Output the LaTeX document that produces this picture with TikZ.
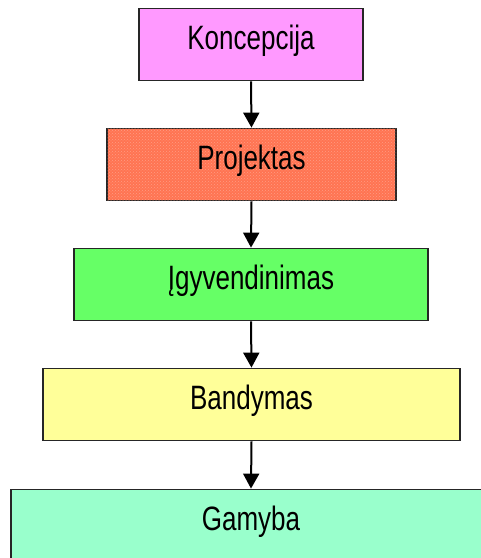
\documentclass[tikz,border=0pt]{standalone}
\usepackage{fontspec}
\usepackage{graphicx}
\setmainfont{Liberation Sans}
\usetikzlibrary{arrows.meta,patterns}

\definecolor{cpink}{HTML}{FF99FF}
\definecolor{corange}{HTML}{FF7452}
\definecolor{corangelt}{HTML}{FF9C84}
\definecolor{cgreen}{HTML}{66FF66}
\definecolor{cyellow}{HTML}{FFFF99}
\definecolor{cmint}{HTML}{99FFCC}

\newcommand{\stagetext}[1]{\scalebox{1}[1.3]{#1}}

\tikzset{
  stage/.style={draw=black!85, line width=1.8pt, inner sep=0pt,
    text height=41pt, text depth=31pt, align=center,
    font=\fontsize{26}{30}\selectfont},
  flow/.style={line width=2pt, -{Triangle[width=16pt,length=15pt]}},
}

\begin{document}
\begin{tikzpicture}[x=1pt,y=-1pt]
  \useasboundingbox (0,0) rectangle (481,558);
  \clip (0,0) rectangle (481,558);

  \node[stage, fill=cpink,   minimum width=224pt] (koncepcija) at (251,44.5) {\stagetext{Koncepcija}};
  \node[stage, fill=corange, minimum width=289pt,
        postaction={pattern=crosshatch dots, pattern color=corangelt}] (projektas) at (251.5,164.5) {\stagetext{Projektas}};
  \node[stage, fill=cgreen,  minimum width=354pt] (igyvendinimas) at (251,284.5) {\stagetext{Įgyvendinimas}};
  \node[stage, fill=cyellow, minimum width=417pt] (bandymas) at (251.5,404.5) {\stagetext{Bandymas}};
  \node[stage, fill=cmint,   minimum width=480pt] (gamyba) at (251,525.5) {\stagetext{Gamyba}};

  \draw[flow] (koncepcija.south) -- (projektas.north);
  \draw[flow] (projektas.south) -- (igyvendinimas.north);
  \draw[flow] (igyvendinimas.south) -- (bandymas.north);
  \draw[flow] (bandymas.south) -- (gamyba.north);
\end{tikzpicture}
\end{document}
